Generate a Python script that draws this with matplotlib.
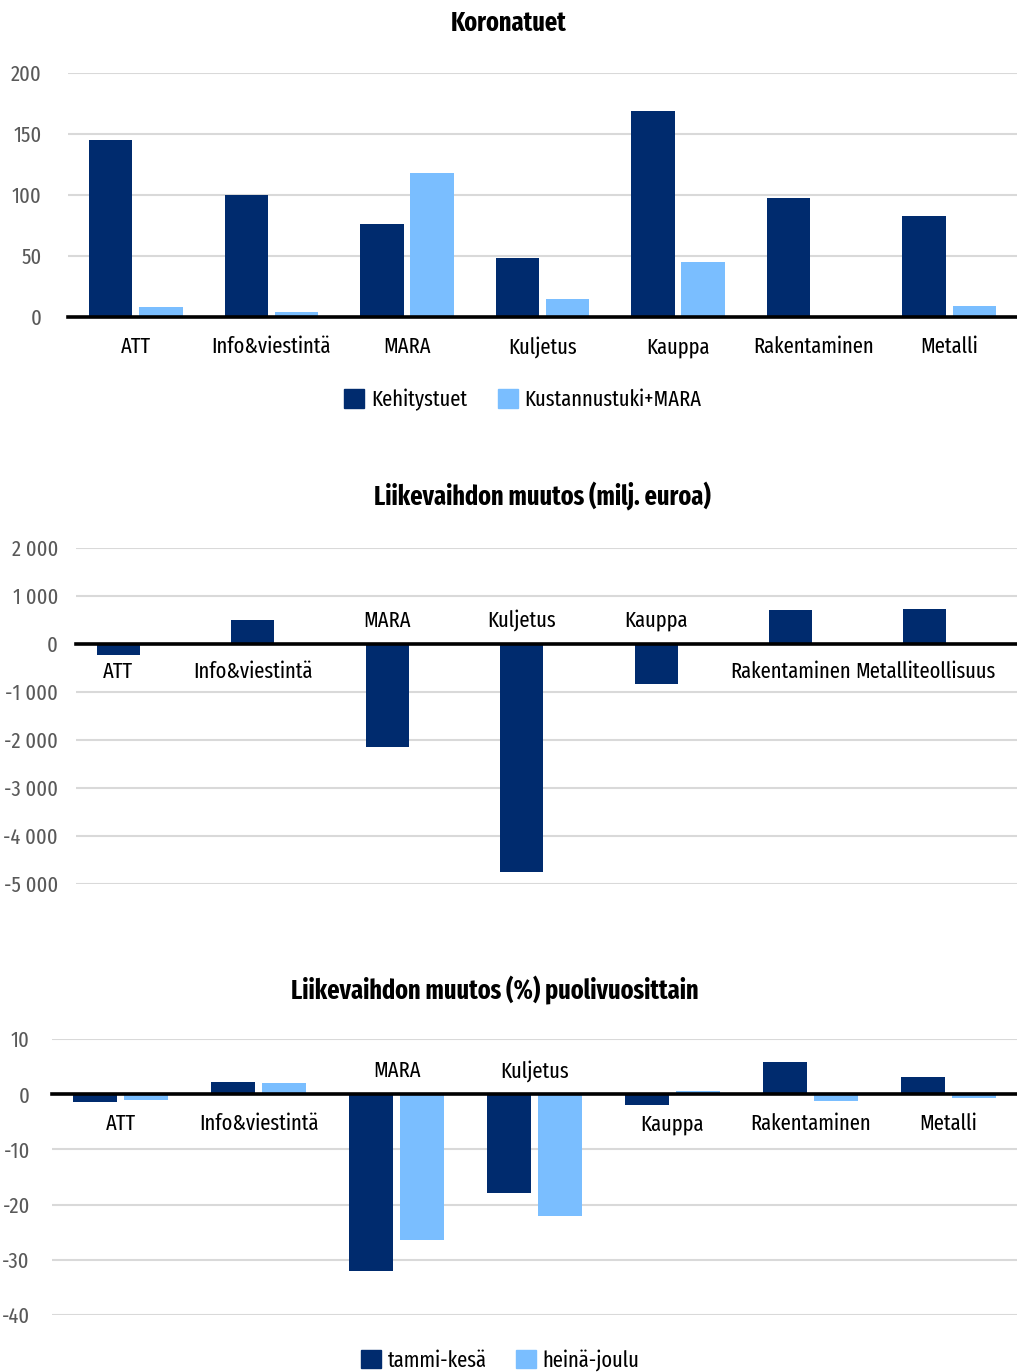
import matplotlib
matplotlib.use("Agg")
import matplotlib.pyplot as plt
import matplotlib.font_manager as fm
from matplotlib.patches import Patch
from matplotlib.ticker import FuncFormatter
import numpy as np

# narrow font if there is one, else DejaVu condensed
available = {f.name for f in fm.fontManager.ttflist}
if 'Fira Sans Extra Condensed' in available:
    plt.rcParams['font.family'] = ['Fira Sans Extra Condensed', 'DejaVu Sans']
    FS = 16
else:
    plt.rcParams['font.family'] = ['DejaVu Sans']
    plt.rcParams['font.stretch'] = 'condensed'
    FS = 13
plt.rcParams['axes.unicode_minus'] = False

# --- data -----------------------------------------------------------------
tuki_cats = ['ATT', 'Info&viestintä', 'MARA', 'Kuljetus', 'Kauppa',
             'Rakentaminen', 'Metalli']
kehitystuet = [145, 100, 76, 48, 169, 97.5, 83]
kustannustuki = [8, 4, 118, 15, 45, 0, 9]

lv_cats = ['ATT', 'Info&viestintä', 'MARA', 'Kuljetus', 'Kauppa',
           'Rakentaminen', 'Metalliteollisuus']
lv_muutos = [-220, 490, -2140, -4740, -826, 715, 736]

pv_cats = ['ATT', 'Info&viestintä', 'MARA', 'Kuljetus', 'Kauppa',
           'Rakentaminen', 'Metalli']
tammi_kesa = [-1.5, 2.3, -32.0, -17.9, -2.0, 5.8, 3.1]
heina_joulu = [-1.1, 2.0, -26.4, -22.0, 0.6, -1.3, -0.7]

DARK = '#002B6E'
LIGHT = '#7ABEFF'
GRID = '#D9D9D9'
TICK = '#595959'
TFS = FS + 3

W, H = 1017, 1372
fig = plt.figure(figsize=(W / 100, H / 100), dpi=100)


def rect(left, top, right, bottom):
    return [left / W, 1 - bottom / H, (right - left) / W, (bottom - top) / H]


def style(ax, ylim, ticks, pad):
    ax.set_xlim(-0.5, 6.5)
    ax.set_ylim(*ylim)
    ax.set_yticks(ticks)
    for s in ax.spines.values():
        s.set_visible(False)
    ax.grid(axis='y', color=GRID, linewidth=1.5)
    ax.set_axisbelow(True)
    ax.axhline(0, color='black', linewidth=2.6, clip_on=False, zorder=5)
    ax.tick_params(axis='y', length=0, labelsize=FS, labelcolor=TICK, pad=pad)
    ax.tick_params(axis='x', length=0)


w = 0.32
off = 0.185

# --- chart 1: Koronatuet --------------------------------------------------
ax1 = fig.add_axes(rect(68, 73, 1017, 317))
x = np.arange(len(tuki_cats))
ax1.bar(x - off, kehitystuet, w, color=DARK)
ax1.bar(x + off, kustannustuki, w, color=LIGHT)
style(ax1, (0, 200), [0, 50, 100, 150, 200], 19)
ax1.set_xticks(x)
ax1.set_xticklabels(tuki_cats, fontsize=FS)
ax1.tick_params(axis='x', pad=14)
fig.text(509 / W, 1 - 23 / H, 'Koronatuet', ha='center', va='center',
         fontsize=TFS, fontweight='bold')
fig.legend(handles=[Patch(color=DARK, label='Kehitystuet'),
                    Patch(color=LIGHT, label='Kustannustuki+MARA')],
           loc='center', bbox_to_anchor=(523 / W, 1 - 400 / H), ncol=2,
           frameon=False, fontsize=FS, handlelength=0.9, handleheight=0.9,
           handletextpad=0.3, columnspacing=1.4)

# --- chart 2: Liikevaihdon muutos (milj. euroa) ----------------------------
ax2 = fig.add_axes(rect(76, 548, 1017, 884))
x = np.arange(len(lv_cats))
ax2.bar(x - off, lv_muutos, w, color=DARK)
style(ax2, (-5000, 2000), np.arange(-5000, 2001, 1000), 13)
ax2.set_xticks([])
ax2.yaxis.set_major_formatter(
    FuncFormatter(lambda v, p: f'{int(v):,}'.replace(',', ' ')))
for xi, v, name in zip(x, lv_muutos, lv_cats):
    dy = 17 if v < -500 else -20
    ax2.annotate(name, (xi - off, 0), xytext=(0, dy), textcoords='offset points',
                 ha='center', va='center', fontsize=FS)
fig.text(542 / W, 1 - 497 / H, 'Liikevaihdon muutos (milj. euroa)',
         ha='center', va='center', fontsize=TFS, fontweight='bold')

# --- chart 3: Liikevaihdon muutos (%) puolivuosittain ----------------------
ax3 = fig.add_axes(rect(52, 1039, 1017, 1315))
x = np.arange(len(pv_cats))
ax3.bar(x - off, tammi_kesa, w, color=DARK)
ax3.bar(x + off, heina_joulu, w, color=LIGHT)
style(ax3, (-40, 10), [-40, -30, -20, -10, 0, 10], 16)
ax3.set_xticks([])
for xi, a, b, name in zip(x, tammi_kesa, heina_joulu, pv_cats):
    dy = 17 if min(a, b) < -5 else -21.5
    ax3.annotate(name, (xi, 0), xytext=(0, dy), textcoords='offset points',
                 ha='center', va='center', fontsize=FS)
fig.text(495 / W, 1 - 990 / H, 'Liikevaihdon muutos (%) puolivuosittain',
         ha='center', va='center', fontsize=TFS, fontweight='bold')
fig.legend(handles=[Patch(color=DARK, label='tammi-kesä'),
                    Patch(color=LIGHT, label='heinä-joulu')],
           loc='center', bbox_to_anchor=(500 / W, 1 - 1360 / H), ncol=2,
           frameon=False, fontsize=FS, handlelength=0.9, handleheight=0.9,
           handletextpad=0.3, columnspacing=1.3)

fig.savefig('out.png', dpi=100, facecolor='white')
